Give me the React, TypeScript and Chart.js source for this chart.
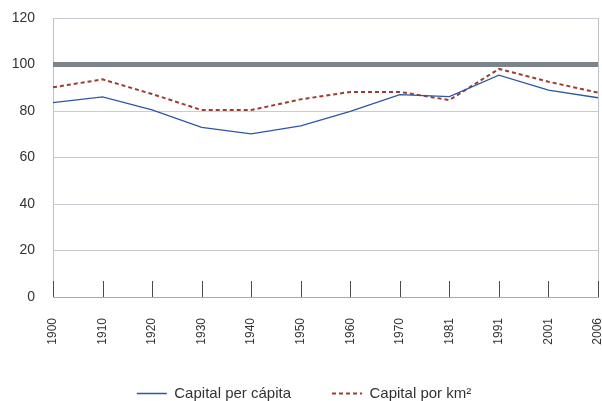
import React, { useEffect, useRef } from 'react';
import { Chart, registerables } from 'chart.js';

Chart.register(...registerables);

const years = ['1900', '1910', '1920', '1930', '1940', '1950', '1960', '1970', '1981', '1991', '2001', '2006'];
const perCapita = [83.6, 86.1, 80.5, 73.0, 70.2, 73.6, 79.8, 87.0, 86.2, 95.4, 89.0, 85.7];
const perKm2 = [90.2, 93.6, 87.3, 80.4, 80.4, 85.0, 88.2, 88.2, 84.7, 98.1, 92.6, 87.9];
const baseline = [100, 100, 100, 100, 100, 100, 100, 100, 100, 100, 100, 100];
const yMin = 0;
const yMax = 120;
const yStep = 20;

const tickMarks = {
  id: 'tickMarks',
  afterDatasetsDraw(chart: any) {
    const x = chart.scales.x;
    const area = chart.chartArea;
    const ctx = chart.ctx;
    ctx.save();
    ctx.strokeStyle = '#4a4a4a';
    ctx.lineWidth = 1;
    x.ticks.forEach((_t: any, i: number) => {
      const px = Math.round(x.getPixelForTick(i)) + 0.5;
      ctx.beginPath();
      ctx.moveTo(px, area.bottom);
      ctx.lineTo(px, area.bottom - 16);
      ctx.stroke();
    });
    ctx.restore();
  },
};

export default function App() {
  const ref = useRef<HTMLCanvasElement>(null);
  useEffect(() => {
    document.body.style.margin = '0';
    const chart = new Chart(ref.current as HTMLCanvasElement, {
      type: 'line',
      data: {
        labels: years,
        datasets: [
          {
            label: 'Base',
            data: baseline,
            borderColor: '#7b848b',
            borderWidth: 5,
            pointRadius: 0,
            order: 3,
          },
          {
            label: 'Capital per cápita',
            data: perCapita,
            borderColor: '#2f56a6',
            backgroundColor: 'transparent',
            borderWidth: 1.3,
            pointRadius: 0,
            tension: 0,
            order: 1,
          },
          {
            label: 'Capital por km²',
            data: perKm2,
            borderColor: '#9c3d30',
            backgroundColor: 'transparent',
            borderWidth: 2,
            borderDash: [4, 3],
            pointRadius: 0,
            tension: 0,
            order: 2,
          },
        ],
      },
      options: {
        responsive: false,
        animation: false,
        layout: { padding: { top: 18, right: 4, left: 10, bottom: -10 } },
        plugins: {
          tooltip: { enabled: false },
          legend: {
            position: 'bottom',
            labels: {
              filter: (item: any) => item.datasetIndex !== 0,
              boxWidth: 30,
              boxHeight: 0,
              padding: 41,
              color: '#333333',
              font: { family: 'Liberation Sans, Arial, sans-serif', size: 15 },
            },
          },
        },
        scales: {
          x: {
            offset: false,
            afterFit: (s: any) => {
              s.height = 48;
              s.paddingLeft = 0;
              s.paddingRight = 0;
            },
            grid: {
              drawTicks: false,
              color: (c: any) => (c.index === years.length - 1 ? '#bfc0c8' : 'transparent'),
            },
            border: { display: true, color: '#a8a8ae' },
            ticks: {
              autoSkip: false,
              minRotation: 90,
              maxRotation: 90,
              padding: 21,
              color: '#333333',
              font: { family: 'Liberation Sans, Arial, sans-serif', size: 12 },
            },
          },
          y: {
            min: yMin,
            max: yMax,
            afterFit: (s: any) => {
              s.width = 43;
              s.paddingTop = 0;
              s.paddingBottom = 0;
            },
            grid: { drawTicks: false, color: '#c9cad2' },
            border: { display: true, color: '#bfc0c8' },
            ticks: {
              stepSize: yStep,
              padding: 18,
              color: '#333333',
              font: { family: 'Liberation Sans, Arial, sans-serif', size: 14 },
            },
          },
        },
      },
      plugins: [tickMarks],
    });
    return () => chart.destroy();
  }, []);
  return (
    <div style={{ width: 602, height: 401 }}>
      <canvas ref={ref} width={602} height={401} />
    </div>
  );
}
